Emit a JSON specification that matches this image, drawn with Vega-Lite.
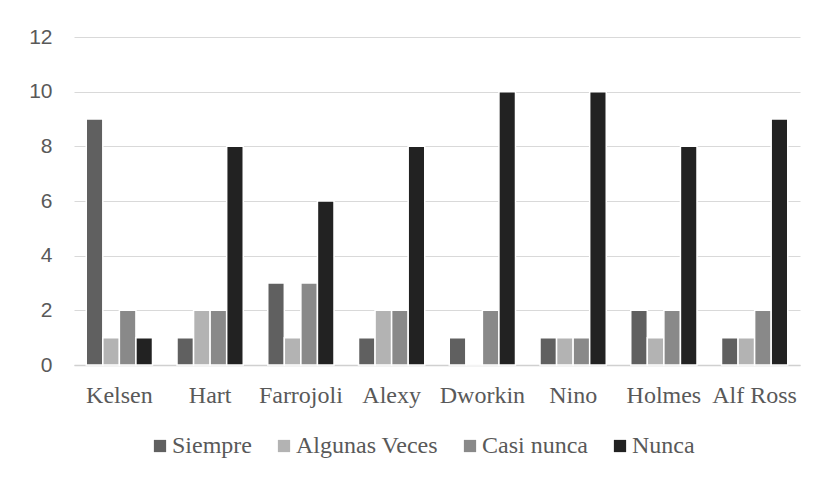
{
  "$schema": "https://vega.github.io/schema/vega-lite/v6.json",
  "autosize": {"type": "none"},
  "width": 726,
  "height": 328,
  "padding": {"left": 74, "top": 37, "right": 18, "bottom": 112},
  "background": "white",
  "data": {
    "values": [
      {"autor": "Kelsen", "serie": "Siempre", "valor": 9},
      {"autor": "Kelsen", "serie": "Algunas Veces", "valor": 1},
      {"autor": "Kelsen", "serie": "Casi nunca", "valor": 2},
      {"autor": "Kelsen", "serie": "Nunca", "valor": 1},
      {"autor": "Hart", "serie": "Siempre", "valor": 1},
      {"autor": "Hart", "serie": "Algunas Veces", "valor": 2},
      {"autor": "Hart", "serie": "Casi nunca", "valor": 2},
      {"autor": "Hart", "serie": "Nunca", "valor": 8},
      {"autor": "Farrojoli", "serie": "Siempre", "valor": 3},
      {"autor": "Farrojoli", "serie": "Algunas Veces", "valor": 1},
      {"autor": "Farrojoli", "serie": "Casi nunca", "valor": 3},
      {"autor": "Farrojoli", "serie": "Nunca", "valor": 6},
      {"autor": "Alexy", "serie": "Siempre", "valor": 1},
      {"autor": "Alexy", "serie": "Algunas Veces", "valor": 2},
      {"autor": "Alexy", "serie": "Casi nunca", "valor": 2},
      {"autor": "Alexy", "serie": "Nunca", "valor": 8},
      {"autor": "Dworkin", "serie": "Siempre", "valor": 1},
      {"autor": "Dworkin", "serie": "Algunas Veces", "valor": 0},
      {"autor": "Dworkin", "serie": "Casi nunca", "valor": 2},
      {"autor": "Dworkin", "serie": "Nunca", "valor": 10},
      {"autor": "Nino", "serie": "Siempre", "valor": 1},
      {"autor": "Nino", "serie": "Algunas Veces", "valor": 1},
      {"autor": "Nino", "serie": "Casi nunca", "valor": 1},
      {"autor": "Nino", "serie": "Nunca", "valor": 10},
      {"autor": "Holmes", "serie": "Siempre", "valor": 2},
      {"autor": "Holmes", "serie": "Algunas Veces", "valor": 1},
      {"autor": "Holmes", "serie": "Casi nunca", "valor": 2},
      {"autor": "Holmes", "serie": "Nunca", "valor": 8},
      {"autor": "Alf Ross", "serie": "Siempre", "valor": 1},
      {"autor": "Alf Ross", "serie": "Algunas Veces", "valor": 1},
      {"autor": "Alf Ross", "serie": "Casi nunca", "valor": 2},
      {"autor": "Alf Ross", "serie": "Nunca", "valor": 9}
    ]
  },
  "mark": {"type": "bar", "stroke": "white", "strokeWidth": 1.5},
  "encoding": {
    "x": {
      "field": "autor",
      "type": "nominal",
      "sort": null,
      "scale": {"paddingInner": 0.27, "paddingOuter": 0.135},
      "axis": {
        "title": null,
        "labelAngle": 0,
        "labelFont": "Liberation Serif",
        "labelFontSize": 24,
        "labelColor": "#595959",
        "labelPadding": 18,
        "ticks": false,
        "domain": true,
        "domainColor": "#d0d0d0",
        "domainWidth": 1.5,
        "grid": false
      }
    },
    "xOffset": {
      "field": "serie",
      "type": "nominal",
      "sort": ["Siempre", "Algunas Veces", "Casi nunca", "Nunca"],
      "scale": {"paddingInner": 0, "paddingOuter": 0}
    },
    "y": {
      "field": "valor",
      "type": "quantitative",
      "scale": {"domain": [0, 12]},
      "axis": {
        "title": null,
        "values": [0, 2, 4, 6, 8, 10, 12],
        "labelFont": "Liberation Sans",
        "labelFontSize": 21,
        "labelColor": "#595959",
        "labelPadding": 22,
        "ticks": false,
        "domain": false,
        "grid": true,
        "gridColor": "#d9d9d9",
        "gridWidth": 1.2
      }
    },
    "color": {
      "field": "serie",
      "type": "nominal",
      "scale": {
        "domain": ["Siempre", "Algunas Veces", "Casi nunca", "Nunca"],
        "range": ["#606060", "#b3b3b3", "#898989", "#222222"]
      },
      "legend": {
        "title": null,
        "orient": "none",
        "legendX": 74,
        "legendY": 397,
        "padding": 0,
        "direction": "horizontal",
        "symbolType": "square",
        "symbolSize": 150,
        "symbolStrokeWidth": 0,
        "labelFont": "Liberation Serif",
        "labelFontSize": 24,
        "labelColor": "#595959",
        "labelOffset": 0,
        "columnPadding": 20
      }
    }
  },
  "config": {
    "view": {"stroke": null}
  }
}
